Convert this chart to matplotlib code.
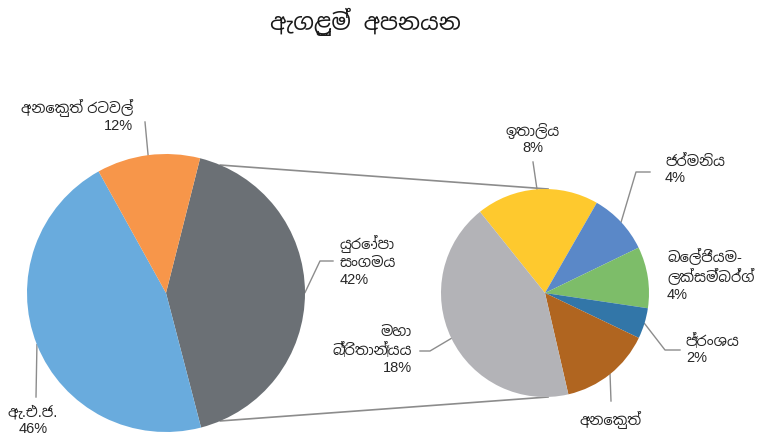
import numpy as np
import matplotlib
matplotlib.use("Agg")
import matplotlib.pyplot as plt
from matplotlib import font_manager

# data (share of total exports, %)
main_labels = ["යුරෝපා\nසංගමය", "ඇ.එ.ජ.", "අනෙකුත් රටවල්"]
main_values = [42, 46, 12]
main_colors = ["#6b7075", "#69abdd", "#f7964a"]

sub_labels = ["ඉතාලිය", "ජර්මනිය", "බෙල්ජියම-\nලක්සම්බර්ග්", "ප්‍රංශය", "අනෙකුත්", "මහා\nබ්‍රිතාන්‍යය"]
sub_values = [8, 4, 4, 2, 6, 18]
sub_colors = ["#fec92e", "#5a88c8", "#7dbd69", "#3276a8", "#b06520", "#b3b3b7"]
sub_show_pct = [True, True, True, True, False, True]

title = "ඇගළුම්  අපනයන"

W, H = 758, 435
have = {f.name for f in font_manager.fontManager.ttflist}
fams = [f for f in ["Liberation Sans", "Noto Sans Sinhala", "Noto Serif Sinhala",
                    "DejaVu Sans"] if f in have]
plt.rcParams['font.family'] = fams

fig = plt.figure(figsize=(W / 100, H / 100), dpi=100)

# overlay in pixel coords (y down) for labels and leader lines
ov = fig.add_axes([0, 0, 1, 1])
ov.set_xlim(0, W)
ov.set_ylim(H, 0)
ov.axis("off")


def pie_axes(cx, cy, r):
    ax = fig.add_axes([(cx - r) / W, (H - cy - r) / H, 2 * r / W, 2 * r / H])
    return ax


def fix(ax):
    ax.set_xlim(-1, 1)
    ax.set_ylim(-1, 1)
    ax.axis("off")


def edge(cx, cy, r, ang):
    a = np.deg2rad(ang)
    return cx + r * np.cos(a), cy - r * np.sin(a)


# left pie
L = (166, 294, 139)
axl = pie_axes(*L)
wl, _ = axl.pie(main_values, colors=main_colors, startangle=75.8, counterclock=False,
                radius=1, wedgeprops=dict(linewidth=0))
fix(axl)

# right pie (breakdown of EU slice)
R = (545, 294, 104)
axr = pie_axes(*R)
wr, _ = axr.pie(sub_values, colors=sub_colors, startangle=128.7, counterclock=False,
                radius=1, wedgeprops=dict(linewidth=0))
fix(axr)

# connector lines between the pies
for s in (1, -1):
    x0, y0 = edge(*L, 67 * s)
    x1, y1 = R[0] + 3, R[1] - s * R[2]
    ov.plot([x0, x1], [y0, y1], color="#8c8c8c", lw=1.2, zorder=0)

lead = dict(color="#8c8c8c", lw=1)
fs = 10.5


def mid(w):
    return (w.theta1 + w.theta2) / 2


def label(ax_w, C, path, txt, tx, ty, ha):
    x0, y0 = edge(*C, mid(ax_w))
    if path:
        ov.plot([x0] + [p[0] for p in path], [y0] + [p[1] for p in path], **lead)
    ov.text(tx, ty, txt, ha=ha, va="center", fontsize=fs, color="#262626",
            multialignment=ha, linespacing=1.25)


# left pie labels
label(wl[0], L, [(320, 262), (333, 262)], main_labels[0] + "\n%d%%" % main_values[0], 340, 261, "left")
label(wl[1], L, [(36, 398)], main_labels[1] + "\n%d%%" % main_values[1], 33, 420, "center")
label(wl[2], L, [(145, 123)], main_labels[2] + "\n%d%%" % main_values[2], 133, 116, "right")

# right pie labels
sub_pos = [
    ([(533, 163)], 533, 139, "center"),
    ([(636, 173), (650, 173)], 665, 170, "left"),
    ([], 667, 275, "left"),
    ([(665, 351), (680, 351)], 686, 349, "left"),
    ([(611, 402)], 611, 420, "center"),
    ([(430, 352), (420, 352)], 412, 350, "right"),
]
for w, lab, v, show, (path, tx, ty, ha) in zip(wr, sub_labels, sub_values, sub_show_pct, sub_pos):
    txt = lab + ("\n%d%%" % v if show else "")
    label(w, R, path, txt, tx, ty, ha)

ov.text(365, 22, title, ha="center", va="center", fontsize=16.5, fontweight="bold", color="#1a1a1a")

fig.savefig("out.png", dpi=100)
